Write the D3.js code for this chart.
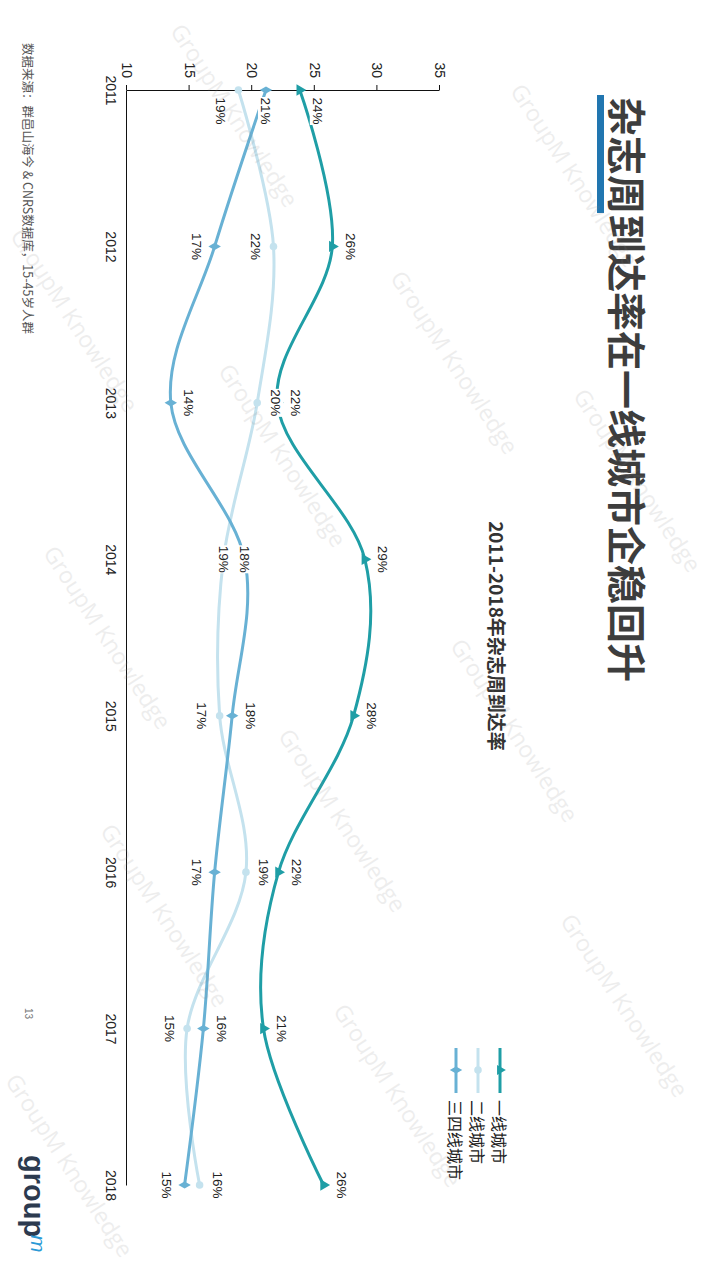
<!DOCTYPE html>
<html><head><meta charset="utf-8">
<script src="https://cdn.jsdelivr.net/npm/d3@7"></script>
<style>html,body{margin:0;padding:0;background:#fff;} svg{display:block}</style>
</head><body>
<svg id="chart" width="720" height="1280"></svg>
<script>
// ---- data ----
const years = ["2011","2012","2013","2014","2015","2016","2017","2018"];
const valueTicks = [10,15,20,25,30,35];
const seriesNames = ["一线城市","二线城市","三四线城市"];
const tier1 = [23.8, 26.4, 22.0, 29.0, 28.1, 22.1, 20.9, 25.7];
const tier2 = [18.9, 21.7, 20.4, 17.7, 17.4, 19.5, 14.8, 15.8];
const tier34 = [21.1, 17.0, 13.5, 19.4, 18.4, 17.0, 16.1, 14.6];
const tier1Labels = ["24%","26%","22%","29%","28%","22%","21%","26%"];
const tier2Labels = ["19%","22%","20%","19%","17%","19%","15%","16%"];
const tier34Labels = ["21%","17%","14%","18%","18%","17%","16%","15%"];
// label side: 1 = above point, -1 = below, 0 = on point
const tier1Side = [1,1,1,1,1,1,1,1];
const tier2Side = [-1,-1,1,0,-1,1,-1,1];
const tier34Side = [0,-1,1,0,1,-1,1,-1];
const titleText = "杂志周到达率在一线城市企稳回升";
const subtitleText = "2011-2018年杂志周到达率";
const sourceText = "数据来源：群邑山海今 & CNRS数据库，15-45岁人群";
const pageNum = "13";
const watermark = "GroupM Knowledge";

// ---- drawing ----
const CJK = '"Noto Sans CJK SC","Noto Sans",sans-serif';
const LAT = '"Liberation Sans",Arial,sans-serif';
const svg = d3.select("#chart");
svg.append("rect").attr("width",720).attr("height",1280).attr("fill","#fff");
// the slide is landscape, rotated 90deg clockwise
const g = svg.append("g").attr("transform","translate(720,0) rotate(90)");

const x = d3.scalePoint().domain(years).range([90,1185]);
const y = d3.scaleLinear().domain([10,35]).range([593,280]);

const series = [
  {name:seriesNames[0], values:tier1, labels:tier1Labels, side:tier1Side, color:"#1f9ea6", sym:d3.symbolTriangle},
  {name:seriesNames[1], values:tier2, labels:tier2Labels, side:tier2Side, color:"#c4e2ee", sym:d3.symbolCircle},
  {name:seriesNames[2], values:tier34, labels:tier34Labels, side:tier34Side, color:"#68b1d4", sym:d3.symbolDiamond}
];

// watermark centres (slide coordinates)
const wm = [[115,485],[175,145],[362,265],[455,437],[637,612],[730,205],[480,82],[820,377],[915,555],[1005,95],[1095,322],[1165,650],[320,645]];

// title
g.append("rect").attr("x",95).attr("y",116).attr("width",118).attr("height",7).attr("fill","#2176b0");
g.append("text").attr("x",97).attr("y",91).attr("dominant-baseline","central")
  .attr("font-family",CJK).attr("font-weight",700).attr("font-size",39).attr("fill","#3d3d3d").text(titleText);
g.append("text").attr("x",636).attr("y",223).attr("text-anchor","middle").attr("dominant-baseline","central")
  .attr("font-family",CJK).attr("font-weight",700).attr("font-size",19).attr("fill","#333").text(subtitleText);

// axes
const ya = g.append("g").attr("transform","translate(90,0)")
  .call(d3.axisLeft(y).tickValues(valueTicks).tickSize(5).tickSizeOuter(0).tickPadding(7));
const xa = g.append("g").attr("transform","translate(0,593)")
  .call(d3.axisBottom(x).tickSize(0).tickSizeOuter(0).tickPadding(11));
[ya,xa].forEach(a=>{
  a.selectAll("text").attr("font-family",LAT).attr("font-size",14).attr("fill","#222");
  a.selectAll("path,line").attr("stroke","#111").attr("stroke-width",1);
});

// lines
const line = d3.line().x((d,i)=>x(years[i])).y(d=>y(d)).curve(d3.curveCardinal.tension(0));
series.forEach(s=>{
  g.append("path").attr("d",line(s.values)).attr("fill","none")
    .attr("stroke",s.color).attr("stroke-width",3).attr("stroke-linecap","round");
});
series.forEach(s=>{
  g.selectAll(null).data(s.values).enter().append("path")
    .attr("d",d3.symbol().type(s.sym).size(s.sym===d3.symbolTriangle?55:45))
    .attr("transform",(d,i)=>`translate(${x(years[i])},${y(d)})`)
    .attr("fill",s.color);
});
// data labels
series.forEach(s=>{
  s.values.forEach((v,i)=>{
    const lx = x(years[i]) + (i===0?21:0);
    const ly = y(v) - s.side[i]*18;
    const lg = g.append("g").attr("transform",`translate(${lx},${ly})`);
    lg.append("rect").attr("x",-14).attr("y",-8).attr("width",28).attr("height",16).attr("fill","#fff");
    lg.append("text").attr("text-anchor","middle").attr("dominant-baseline","central")
      .attr("font-family",LAT).attr("font-size",13.5).attr("fill","#222").text(s.labels[i]);
  });
});

// legend
const legY = d3.scalePoint().domain(seriesNames).range([220,264]);
series.forEach(s=>{
  const ly = legY(s.name);
  g.append("line").attr("x1",1048).attr("x2",1093).attr("y1",ly).attr("y2",ly)
    .attr("stroke",s.color).attr("stroke-width",3);
  g.append("path").attr("d",d3.symbol().type(s.sym).size(45)).attr("transform",`translate(1070,${ly})`).attr("fill",s.color);
  g.append("text").attr("x",1100).attr("y",ly).attr("dominant-baseline","central")
    .attr("font-family",CJK).attr("font-size",16).attr("fill","#222").text(s.name);
});

// footer
g.append("text").attr("x",43).attr("y",692).attr("dominant-baseline","central")
  .attr("font-family",CJK).attr("font-size",12.5).attr("fill","#555").text(sourceText);
g.append("text").attr("x",1008).attr("y",692).attr("dominant-baseline","central")
  .attr("font-family",LAT).attr("font-size",10).attr("fill","#777").text(pageNum);
g.append("text").attr("x",1155).attr("y",696).attr("font-family",LAT).attr("font-weight",700)
  .attr("font-size",29).attr("fill","#2c3a4f").text("group");
g.append("text").attr("x",1235).attr("y",689).attr("font-family",LAT).attr("font-style","italic")
  .attr("font-size",21).attr("fill","#2b9ad6").text("m");

wm.forEach(([cx,cy])=>{
  g.append("text").attr("transform",`translate(${cx},${cy}) rotate(-33)`)
    .attr("text-anchor","middle").attr("dominant-baseline","central")
    .attr("font-family",'"Open Sans",sans-serif').attr("font-size",23)
    .attr("fill","#888").attr("opacity",0.14).text(watermark);
});
</script>
</body></html>
